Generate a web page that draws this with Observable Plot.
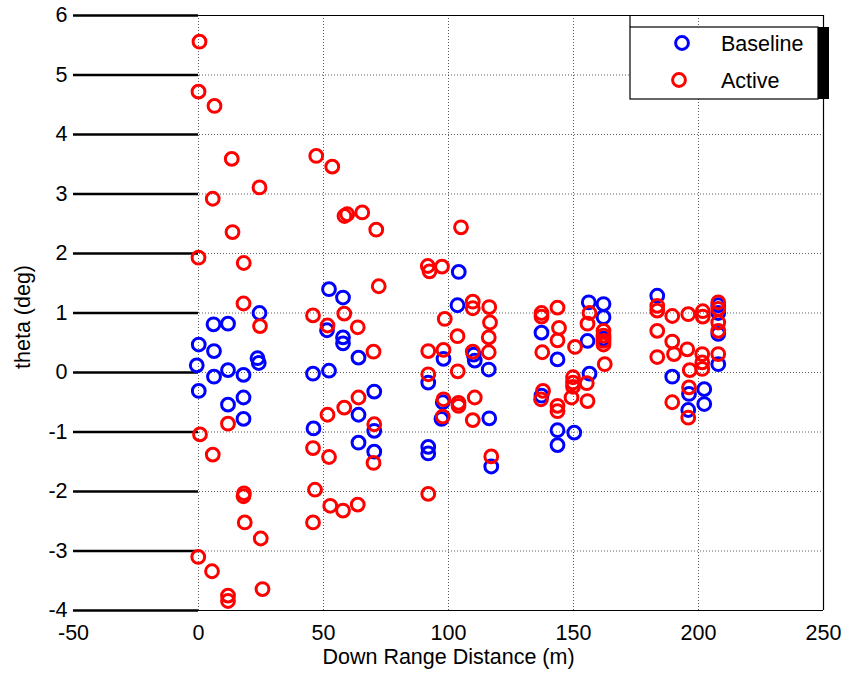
<!DOCTYPE html>
<html>
<head>
<meta charset="utf-8">
<script src="https://cdn.jsdelivr.net/npm/d3@7"></script>
<script src="https://cdn.jsdelivr.net/npm/@observablehq/plot@0.6"></script>
<style>
  html, body { margin: 0; padding: 0; background: #fff; }
  #chart svg { display: block; }
</style>
</head>
<body>
<div id="chart"></div>
<script>
// Down-range distance (m) and heading error theta (deg) for each run
const baselineX = [
  24.4, 6.0, 11.8, 0.1, 6.2, 23.6, 24.1, -0.7, 6.2, 11.8, 18.0, 0.1, 18.0, 11.8, 18.0,
  52.2, 57.8, 51.4, 57.8, 57.8, 64.0, 45.8, 52.2, 70.3, 64.0, 70.3, 46.0, 64.0, 70.3,
  104.1, 103.6, 98.0, 110.1, 110.5, 116.1, 91.9, 97.7, 97.2, 116.3, 91.9, 91.9, 117.1,
  156.1, 162.0, 162.0, 137.2, 162.0, 155.6, 143.6, 156.4, 137.2, 143.6, 150.3, 143.6,
  183.5, 207.9, 207.9, 207.9, 207.9, 189.5, 196.2, 202.3, 202.3, 195.9
];
const baselineY = [
  1.00, 0.81, 0.82, 0.47, 0.36, 0.24, 0.16, 0.12, -0.07, 0.04, -0.04, -0.31, -0.42, -0.54, -0.78,
  1.40, 1.26, 0.71, 0.59, 0.49, 0.25, -0.02, 0.03, -0.32, -0.71, -0.98, -0.94, -1.18, -1.33,
  1.69, 1.13, 0.23, 0.30, 0.20, 0.05, -0.17, -0.50, -0.78, -0.77, -1.25, -1.36, -1.58,
  1.18, 1.15, 0.93, 0.67, 0.57, 0.53, 0.22, -0.02, -0.39, -0.97, -1.01, -1.22,
  1.29, 1.13, 1.00, 0.65, 0.14, -0.07, -0.36, -0.28, -0.53, -0.63
];
const activeX = [
  0.4, 0.0, 6.4, 13.3, 24.4, 5.7, 13.6, 0.0, 18.1, 18.0, 24.6, 11.8, 0.6, 5.7, 18.2, 18.0, 18.5, 24.9, -0.1, 5.4, 25.6, 11.8, 11.8,
  47.1, 53.5, 58.4, 59.5, 65.5, 71.1, 72.1, 45.8, 58.3, 51.6, 63.7, 70.0, 64.0, 58.3, 51.6, 70.3, 45.8, 52.2, 70.0, 46.6, 52.7, 57.8, 63.7, 45.8,
  105.0, 91.7, 92.4, 97.4, 109.7, 109.7, 116.3, 98.5, 116.6, 103.6, 116.1, 91.9, 98.0, 109.7, 116.1, 103.7, 91.9, 98.0, 104.0, 104.0, 110.5, 97.7, 109.7, 117.1, 91.9,
  137.2, 137.2, 143.6, 156.4, 155.6, 144.2, 162.0, 162.0, 162.0, 162.0, 143.6, 150.6, 137.5, 162.5, 149.8, 149.8, 149.8, 155.3, 137.8, 137.0, 149.2, 143.6, 143.6, 155.6,
  183.5, 183.5, 189.5, 195.9, 201.7, 201.7, 207.9, 207.9, 207.9, 207.9, 183.5, 189.5, 195.5, 183.5, 190.2, 201.5, 201.5, 201.5, 207.9, 196.5, 196.2, 189.5, 195.9
];
const activeY = [
  5.56, 4.72, 4.48, 3.59, 3.11, 2.92, 2.36, 1.93, 1.84, 1.16, 0.78, -0.86, -1.04, -1.38, -2.03, -2.08, -2.52, -2.79, -3.10, -3.34, -3.64, -3.75, -3.84,
  3.64, 3.46, 2.63, 2.66, 2.69, 2.40, 1.45, 0.96, 0.99, 0.79, 0.76, 0.35, -0.42, -0.59, -0.71, -0.87, -1.27, -1.42, -1.52, -1.97, -2.24, -2.32, -2.22, -2.52,
  2.44, 1.79, 1.70, 1.78, 1.19, 1.08, 1.10, 0.90, 0.84, 0.61, 0.59, 0.36, 0.38, 0.35, 0.34, 0.02, -0.03, -0.45, -0.51, -0.56, -0.42, -0.74, -0.80, -1.41, -2.04,
  1.00, 0.94, 1.09, 1.00, 0.82, 0.75, 0.70, 0.62, 0.53, 0.47, 0.54, 0.43, 0.34, 0.14, -0.08, -0.17, -0.24, -0.18, -0.31, -0.45, -0.42, -0.56, -0.65, -0.48,
  1.12, 1.04, 0.95, 0.98, 1.03, 0.94, 1.18, 1.07, 0.84, 0.70, 0.70, 0.52, 0.39, 0.26, 0.31, 0.31, 0.17, 0.06, 0.31, 0.04, -0.25, -0.50, -0.76
];

const seriesNames = ["Baseline", "Active"];
const seriesColors = ["#0000ff", "#ff0000"];
const xTicks = [-50, 0, 50, 100, 150, 200, 250];
const yTicks = [-4, -3, -2, -1, 0, 1, 2, 3, 4, 5, 6];
const xLabel = "Down Range Distance (m)";
const yLabel = "theta (deg)";

const baseline = baselineX.map((x, i) => ({x, y: baselineY[i]}));
const active = activeX.map((x, i) => ({x, y: activeY[i]}));

const W = 854, H = 681;
const M = {top: 15, right: 31, bottom: 71, left: 73};
const font = "'Liberation Sans', Arial, sans-serif";
const fs = 21.5;
const fmt = d => String(d);
const dotR = 6.4, dotW = 3;

const plot = Plot.plot({
  width: W,
  height: H,
  marginTop: M.top,
  marginRight: M.right,
  marginBottom: M.bottom,
  marginLeft: M.left,
  style: {fontFamily: font, fontSize: fs + "px", background: "#fff", color: "#000", overflow: "visible"},
  x: {domain: [-50, 250], label: null},
  y: {domain: [-4, 6], label: null},
  marks: [
    // dotted grid
    Plot.ruleX(xTicks.slice(1, -1), {stroke: "#333", strokeOpacity: 0.8, strokeDasharray: "1,2", strokeWidth: 1}),
    Plot.ruleY(yTicks.slice(1, -1), {stroke: "#333", strokeOpacity: 0.8, strokeDasharray: "1,2", strokeWidth: 1}),
    // heavy stubs on the left between -50 and 0
    Plot.ruleY(yTicks, {x1: -50, x2: 0, stroke: "#000", strokeWidth: 2.5}),
    // box edges
    Plot.ruleY([yTicks[0], yTicks[yTicks.length - 1]], {stroke: "#000", strokeWidth: 1.2}),
    Plot.ruleX([xTicks[xTicks.length - 1]], {stroke: "#000", strokeWidth: 1.2}),
    // data
    Plot.dot(baseline, {x: "x", y: "y", r: dotR, stroke: seriesColors[0], strokeWidth: dotW, fill: "none"}),
    Plot.dot(active, {x: "x", y: "y", r: dotR, stroke: seriesColors[1], strokeWidth: dotW, fill: "none"}),
    // axes
    Plot.axisX({ticks: xTicks, tickSize: 0, tickPadding: 14, tickFormat: fmt, fontSize: fs, label: null}),
    Plot.axisY({ticks: yTicks, tickSize: 0, tickPadding: 6, tickFormat: fmt, fontSize: fs, label: null}),
    Plot.text([xLabel], {frameAnchor: "bottom", dy: 53, fontSize: fs, text: d => d}),
    Plot.text([yLabel], {frameAnchor: "left", textAnchor: "middle", dx: -50, dy: 4, rotate: -90, fontSize: fs, text: d => d})
  ]
});

document.getElementById("chart").appendChild(plot);

// legend box in the upper right of the frame
const svg = d3.select(plot);
const frameRight = W - M.right;
const lg = {left: frameRight - 193, top: M.top + 12, right: frameRight - 5, bottom: M.top + 84};
const g = svg.append("g")
  .attr("font-family", font)
  .attr("font-size", fs)
  .attr("text-anchor", "start");

g.append("rect")
  .attr("x", lg.left).attr("y", lg.top)
  .attr("width", lg.right - lg.left).attr("height", lg.bottom - lg.top)
  .attr("fill", "#fff").attr("stroke", "#000").attr("stroke-width", 1.2);
g.append("line")
  .attr("x1", lg.left).attr("x2", lg.left)
  .attr("y1", M.top).attr("y2", lg.top)
  .attr("stroke", "#000").attr("stroke-width", 1.2);
g.append("rect")
  .attr("x", lg.right).attr("y", lg.top)
  .attr("width", 11).attr("height", lg.bottom - lg.top)
  .attr("fill", "#000");

const rowsY = [lg.top + 16, lg.top + 53];
const markerX = [lg.left + 52, lg.left + 49];
seriesNames.forEach((name, i) => {
  g.append("circle")
    .attr("cx", markerX[i]).attr("cy", rowsY[i]).attr("r", dotR)
    .attr("fill", "none").attr("stroke", seriesColors[i]).attr("stroke-width", dotW);
  g.append("text")
    .attr("x", lg.left + 91).attr("y", rowsY[i] + 8)
    .attr("fill", "#000")
    .text(name);
});
</script>
</body>
</html>
